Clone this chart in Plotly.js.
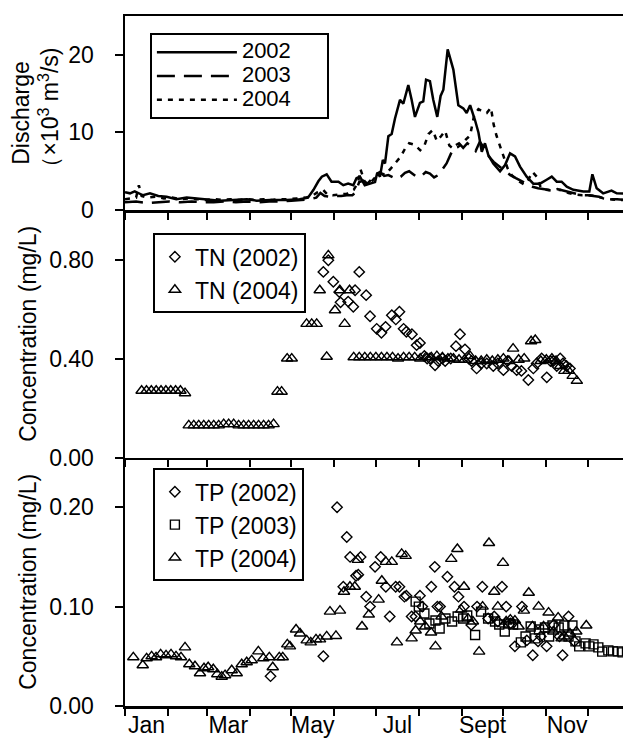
<!DOCTYPE html>
<html>
<head>
<meta charset="utf-8">
<script src="https://cdn.plot.ly/plotly-3.0.1.min.js"></script>
<style>html,body{margin:0;padding:0;background:#fff;}#chart{width:623px;height:738px;}</style>
</head>
<body>
<div id="chart"></div>
<script>
// ---- axis / tick data ----
const monthStarts = [0, 31, 59, 90, 120, 151, 181, 212, 243, 273, 304, 334, 365];
const monthLabels = ['Jan', 'Mar', 'May', 'Jul', 'Sept', 'Nov'];
const monthLabelIdx = [0, 2, 4, 6, 8, 10];
const qTicks = [0, 10, 20];
const tnTicks = [0, 0.4, 0.8];
const tnTickText = ['0.00', '0.40', '0.80'];
const tpTicks = [0, 0.1, 0.2];
const tpTickText = ['0.00', '0.10', '0.20'];

// ---- discharge (x10^3 m3/s), x = day of year ----
const q2002Day = [0,3.6,7,10,13,18,24,30,37,44.5,50.5,59,68.5,78,88,95,104.6,116.7,126,132,136,139.5,142,145.5,149,154,157.5,161,164.7,167,169.5,173,176.8,180.4,182,184,186,187.6,190,192.4,194.8,198.4,200.8,204.4,206.8,209.2,212.8,215.2,217.2,220,222.4,225.3,227.7,229.7,232.8,236.9,240.5,244.1,246.5,249,252.5,255,257.4,259.7,262.1,265.7,270.6,274.2,277.8,281.4,285,289.8,294.6,299.4,304.2,307.9,311.5,315,318.7,323.5,330.7,335,337.2,340.3,345,351,354.8,359.3,365];
const q2002 = [2.3,2.15,2.4,2.2,1.9,2.15,1.8,1.7,1.4,1.6,1.5,1.3,1.2,1.3,1.4,1.2,1.3,1.3,1.4,1.6,2.6,3.7,4.3,4.6,3.65,3.65,3.2,3.4,3.2,4.1,4.3,3.2,3.4,3.6,4.8,4.3,6.45,6.0,9.5,9.8,11.8,14.2,13.7,16.1,14.2,12.0,13.8,14.0,16.8,16.6,14.2,12.0,14.7,15.5,20.7,18.1,13.5,13.1,12.5,13.5,11.6,10.0,7.5,8.6,7.1,6.0,5.0,5.8,7.3,6.9,5.6,4.3,3.4,3.4,3.9,4.3,3.65,3.65,3.0,2.6,2.4,2.4,4.6,2.8,2.15,2.5,2.15,2.15,2.1];
const q2003Day = [0,8,16,24,32,40,48,56,64,72,80,88,96,104,112,120,128,134,138,141,144,148,152,156,160,164,166,169,172,175,178,181,184,187,190,193,196,199,202,205,208,211,214,217,220,223,226,229,232,235,238,241,244,247,250,253,256,259,262,266,270,274,278,282,286,290,294,298,302,306,310,314,318,322,326,330,334,338,342,346,350,355,360];
const q2003 = [1.0,1.1,0.9,1.0,1.1,1.0,1.1,1.0,1.0,1.1,1.0,1.1,1.0,1.1,1.1,1.2,1.3,1.4,1.6,2.2,1.8,1.7,1.8,1.8,1.9,1.9,2.2,3.6,3.8,3.4,4.0,4.6,4.9,4.4,4.5,4.2,4.0,4.3,4.8,5.0,4.6,4.2,4.4,4.9,4.7,4.2,4.5,5.3,6.0,7.2,8.3,8.6,8.0,8.6,8.2,7.6,8.8,8.0,7.0,6.2,5.6,5.0,4.5,4.1,3.7,3.3,3.0,2.8,2.7,2.6,2.5,2.6,2.4,2.2,2.0,1.9,1.9,1.8,1.7,1.5,1.4,1.4,1.3];
const q2004Day = [0,5,8,10,12,16,22,28,34,40,46,52,58,64,70,76,82,88,94,100,106,112,118,124,130,135,139,143,146,150,155,160,165,168,170,173,176,180,184,188,192,196,199,202,205,209,213,216,219,222,225,228,231,234,237,240,243,246,249,252,255,258,261,264,266,268,270,273,276,279,282,285,288,291,294,297,300,304,308,312,316,320,325,330,335,340,345,350,355,360];
const q2004 = [1.4,1.5,1.6,3.2,1.8,1.6,1.7,1.5,1.6,1.4,1.5,1.4,1.3,1.4,1.3,1.4,1.3,1.4,1.3,1.4,1.3,1.4,1.4,1.5,1.6,1.8,2.3,2.6,2.0,1.9,2.0,2.1,2.6,3.5,5.2,3.6,3.3,4.1,4.7,4.6,5.4,6.2,6.9,7.9,8.6,8.4,7.7,8.3,9.8,10.3,8.9,9.5,10.2,8.3,7.9,8.1,8.5,9.1,9.6,12.3,13.0,12.7,12.5,13.2,11.0,9.6,8.6,7.0,5.4,4.5,4.0,3.6,3.3,3.9,4.9,4.3,2.9,2.6,2.5,2.7,2.5,2.2,2.0,1.9,1.9,1.8,1.5,1.4,1.3,1.3];

// ---- TN (mg/L) ----
const tn2002Day = [143.1,146.7,150.3,154.6,155.5,161,164.7,166,169,174,176.8,181.6,185,188,192.5,195.4,198,201,203,207,210.4,212.8,216,218,220,223.7,226,229,231,235,238.8,241.7,245.3,248,250,253.7,257,261,265.7,269,273,276,279,282.6,286,291,294.6,297,300.6,304.3,307,309,311.5,314,316,318.5,321];
const tn2002 = [0.75,0.797,0.71,0.669,0.627,0.63,0.609,0.676,0.75,0.656,0.571,0.52,0.504,0.528,0.575,0.558,0.589,0.52,0.508,0.498,0.454,0.463,0.41,0.40,0.40,0.373,0.39,0.40,0.39,0.40,0.45,0.498,0.437,0.40,0.39,0.36,0.38,0.38,0.37,0.38,0.353,0.39,0.37,0.353,0.35,0.313,0.36,0.38,0.40,0.324,0.39,0.39,0.37,0.40,0.38,0.37,0.36];
const tn2004Day = [12,15.5,19,22.5,26,29.5,33,36.5,40,43.3,46,49.6,53.2,56.8,60.4,64,67.6,71.2,74.8,78.4,82,85.6,89.2,92.8,96.4,100,103.6,107.2,110,113,117,120.3,131,134.7,138.3,140.5,145.5,146.7,151.5,155,158.5,162,165,169,173,177,181,185,189,193,197,201,205,209,213,217,221,225,229,233,237,241,245,249,253,257,261,265,269,273,277,280,284,288,293,296,300,304,308,311,314,317,320,323,326];
const tn2004 = [0.27,0.27,0.27,0.27,0.27,0.27,0.27,0.27,0.27,0.26,0.13,0.13,0.13,0.13,0.13,0.13,0.13,0.135,0.135,0.135,0.13,0.13,0.13,0.13,0.13,0.13,0.13,0.135,0.266,0.266,0.40,0.40,0.54,0.54,0.54,0.676,0.407,0.817,0.595,0.676,0.54,0.676,0.405,0.405,0.405,0.405,0.405,0.405,0.405,0.405,0.40,0.405,0.405,0.405,0.40,0.405,0.405,0.41,0.405,0.40,0.40,0.395,0.395,0.41,0.39,0.39,0.395,0.39,0.395,0.40,0.39,0.44,0.395,0.40,0.47,0.475,0.39,0.395,0.40,0.39,0.37,0.35,0.35,0.33,0.31];

// ---- TP (mg/L) ----
const tp2002Day = [105,143.1,153,157.5,160,162.4,166.7,168.3,170,174,176.8,180.4,184.5,188.2,191,195.3,198,201.6,203,206.8,209.6,212.8,214.5,221,223.5,225.4,227.3,232.6,237.7,240.6,244.6,249.8,254,257.8,262,266.4,269,272,275,278,281.3,286.4,289.9,294.2,298,300,304.2,309.3,313.5,315.7,320,324.2];
const tp2002 = [0.030,0.050,0.20,0.12,0.17,0.15,0.131,0.132,0.15,0.11,0.10,0.14,0.15,0.12,0.09,0.12,0.12,0.11,0.111,0.09,0.09,0.111,0.10,0.12,0.14,0.10,0.10,0.13,0.12,0.11,0.10,0.0816,0.10,0.12,0.088,0.09,0.085,0.12,0.10,0.083,0.06,0.10,0.066,0.051,0.065,0.07,0.06,0.0816,0.07,0.051,0.09,0.065];
const tp2003Day = [209.7,212,216,219.6,224,227,231.2,236,240,244,246.9,252.6,256.9,262,267,270,274,277,280,285.6,289,292.7,296,298.7,303,306,308.4,312.9,317,320,322.8,325,327.7,332.3,335,338,341.5,344.3,348.7,352,355.7,359];
const tp2003 = [0.105,0.100,0.093,0.083,0.086,0.078,0.088,0.085,0.09,0.088,0.091,0.0715,0.095,0.088,0.085,0.082,0.075,0.083,0.082,0.064,0.07,0.080,0.068,0.077,0.079,0.07,0.081,0.079,0.081,0.07,0.081,0.065,0.06,0.063,0.06,0.062,0.059,0.0547,0.056,0.055,0.055,0.054];
const tp2004Day = [6,12.8,15.6,19.2,22.4,25.7,29.6,33.2,36.8,40.4,43.3,46.4,50.5,54.1,57,60,63.7,66.6,69.8,72.2,77,80.6,84.2,87.8,91.4,96.2,99.8,104.1,106.6,111.3,113.8,117.1,119,123.4,126.3,131.1,134,137.8,140.7,145.5,147.9,152.2,155.1,158,162.3,165.8,168,171,175.9,183,185.3,188.2,192.5,196.2,199.6,202.5,206.8,209.7,213,216.6,220.8,224,228.3,235.4,239.8,242.6,244.6,247.5,251,255.5,258,262.6,266.4,269,272.7,275,278,281.3,284,287.8,291.3,294,298.4,302,305.6,309,312.5,315,317,321,325.6,332.8];
const tp2004 = [0.049,0.041,0.048,0.050,0.049,0.052,0.051,0.052,0.050,0.049,0.059,0.042,0.040,0.033,0.038,0.039,0.037,0.032,0.0295,0.031,0.036,0.033,0.042,0.044,0.046,0.055,0.048,0.049,0.039,0.049,0.049,0.062,0.060,0.077,0.073,0.066,0.064,0.067,0.067,0.070,0.095,0.0705,0.096,0.115,0.12,0.12,0.147,0.08,0.092,0.107,0.126,0.145,0.145,0.064,0.153,0.151,0.068,0.076,0.085,0.080,0.074,0.060,0.090,0.148,0.158,0.097,0.12,0.088,0.085,0.0547,0.10,0.164,0.115,0.10,0.144,0.085,0.087,0.086,0.08,0.096,0.114,0.08,0.10,0.08,0.094,0.075,0.089,0.068,0.070,0.073,0.075,0.081];

// ---- build ----
const FONT = 'Liberation Sans, Arial, Helvetica, sans-serif';
const NB = '\u00a0';
const big = s => '<span style="font-size:22px">' + s + NB.repeat(5) + '</span>';
const labelDays = monthLabelIdx.map(i => (monthStarts[i] + monthStarts[i + 1]) / 2);
const XR = [0, 359.3];

function mk(sym, size) {
  return {symbol: sym, size: size, color: 'black', line: {width: 1.4, color: 'black'}};
}

const traces = [
  {x: q2002Day, y: q2002, name: big('2002'), type: 'scatter', mode: 'lines', xaxis: 'x', yaxis: 'y', legend: 'legend',
   line: {color: 'black', width: 2.5}},
  {x: q2003Day, y: q2003, name: big('2003'), type: 'scatter', mode: 'lines', xaxis: 'x', yaxis: 'y', legend: 'legend',
   line: {color: 'black', width: 2.5, dash: '18px,9px'}},
  {x: q2004Day, y: q2004, name: big('2004'), type: 'scatter', mode: 'lines', xaxis: 'x', yaxis: 'y', legend: 'legend',
   line: {color: 'black', width: 2.5, dash: '5px,6px'}},
  {x: tn2002Day, y: tn2002, name: 'TN (2002)', type: 'scatter', mode: 'markers', xaxis: 'x2', yaxis: 'y2', legend: 'legend2',
   marker: mk('diamond-open', 8)},
  {x: tn2004Day, y: tn2004, name: 'TN (2004)', type: 'scatter', mode: 'markers', xaxis: 'x2', yaxis: 'y2', legend: 'legend2',
   marker: mk('triangle-up-open', 10)},
  {x: tp2002Day, y: tp2002, name: 'TP (2002)', type: 'scatter', mode: 'markers', xaxis: 'x3', yaxis: 'y3', legend: 'legend3',
   marker: mk('diamond-open', 8)},
  {x: tp2003Day, y: tp2003, name: 'TP (2003)', type: 'scatter', mode: 'markers', xaxis: 'x3', yaxis: 'y3', legend: 'legend3',
   marker: mk('square-open', 9)},
  {x: tp2004Day, y: tp2004, name: 'TP (2004)', type: 'scatter', mode: 'markers', xaxis: 'x3', yaxis: 'y3', legend: 'legend3',
   marker: mk('triangle-up-open', 10)},
  {x: [], y: [], xaxis: 'x4', yaxis: 'y3', showlegend: false, type: 'scatter', mode: 'markers'}
];

const xBase = {
  range: XR, tickvals: monthStarts, showticklabels: false, ticks: 'outside', ticklen: 7, tickwidth: 2,
  tickcolor: 'black', showline: true, linewidth: 2.5, linecolor: 'black', showgrid: false, zeroline: false, fixedrange: true
};
const yBase = {
  ticks: 'outside', ticklen: 8, tickwidth: 2, tickcolor: 'black', showline: true, linewidth: 2.5, linecolor: 'black',
  showgrid: false, zeroline: false, fixedrange: true, tickfont: {size: 23}, ticklabelstandoff: 16
};
const legBase = {xanchor: 'left', yanchor: 'top', bordercolor: 'black', borderwidth: 2, bgcolor: 'white', traceorder: 'normal'};

const layout = {
  width: 623, height: 738,
  margin: {l: 125, r: 0, t: 16, b: 32, pad: 0},
  paper_bgcolor: 'white', plot_bgcolor: 'white',
  font: {family: FONT, size: 23, color: 'black'},
  hovermode: false,
  xaxis: Object.assign({}, xBase, {anchor: 'y', mirror: true}),
  xaxis2: Object.assign({}, xBase, {anchor: 'y2'}),
  xaxis3: Object.assign({}, xBase, {anchor: 'y3'}),
  xaxis4: {overlaying: 'x3', anchor: 'y3', range: XR, tickvals: labelDays, ticktext: monthLabels, ticks: '',
           showline: false, showgrid: false, zeroline: false, tickfont: {size: 23}, ticklabelstandoff: 3, fixedrange: true},
  yaxis: Object.assign({}, yBase, {anchor: 'x', domain: [0.7188, 1], range: [0, 25], tickvals: qTicks,
    title: {text: 'Discharge<br>（×10<sup>3</sup> m<sup>3</sup>/s)', font: {size: 23}, standoff: 3}}),
  yaxis2: Object.assign({}, yBase, {anchor: 'x2', domain: [0.3601, 0.7188], range: [0, 1.0], tickvals: tnTicks, ticktext: tnTickText,
    title: {text: 'Concentration (mg/L)', font: {size: 23}, standoff: 6}}),
  yaxis3: Object.assign({}, yBase, {anchor: 'x3', domain: [0, 0.3601], range: [0, 0.25], tickvals: tpTicks, ticktext: tpTickText,
    title: {text: 'Concentration (mg/L)', font: {size: 23}, standoff: 6}}),
  showlegend: true,
  legend: Object.assign({}, legBase, {x: 0.05, y: 0.975, font: {size: 16}, itemwidth: 80}),
  legend2: Object.assign({}, legBase, {x: 0.056, y: 0.685, font: {size: 23}, itemwidth: 30}),
  legend3: Object.assign({}, legBase, {x: 0.056, y: 0.3445, font: {size: 23}, itemwidth: 30})
};

Plotly.newPlot('chart', traces, layout, {staticPlot: true, displayModeBar: false});
</script>
</body>
</html>
